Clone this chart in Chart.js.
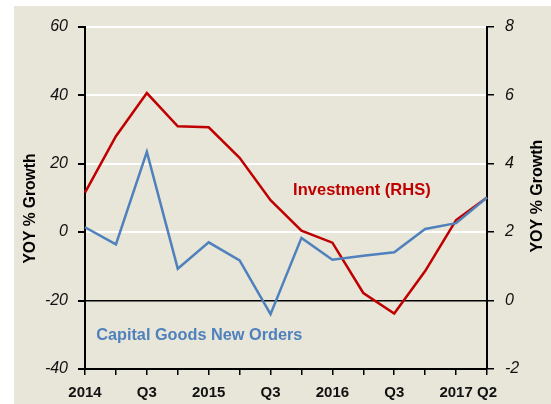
<!DOCTYPE html>
<html lang="en">
<head>
    <meta charset="UTF-8">
    <title>Capital Goods Orders vs Investment</title>
    <script src="https://cdn.jsdelivr.net/npm/chart.js"></script>
    <style>
        body {
            margin: 0;
            background-color: #ffffff;
            font-family: "Liberation Sans", Arial, sans-serif;
        }
        .chart-box {
            position: absolute;
            left: 14px;
            top: 6px;
            width: 537px;
            height: 398px;
            background-color: #e8e5d9;
        }
    </style>
</head>
<body>

<div class="chart-box">
    <canvas id="chart" width="537" height="398"></canvas>
</div>

<script>
    // quarterly, 2014 Q1 .. 2017 Q2
    const quarterLabels = ['2014', '', 'Q3', '', '2015', '', 'Q3', '', '2016', '', 'Q3', '', '2017', 'Q2'];
    // YOY % growth, left axis
    const capitalGoodsOrders = [1.4, -3.6, 23.4, -10.7, -3.0, -8.3, -24.0, -1.7, -8.1, -6.9, -5.9, 0.9, 2.6, 10.1];
    // YOY % growth, right axis
    const investment = [3.15, 4.8, 6.06, 5.09, 5.06, 4.17, 2.93, 2.04, 1.69, 0.22, -0.38, 0.86, 2.35, 3.01];

    const leftTicks = [-40, -20, 0, 20, 40, 60];
    const rightTicks = [-2, 0, 2, 4, 6, 8];

    const FONT = '"Liberation Sans", Arial, sans-serif';
    const RED = '#c00000';
    const BLUE = '#4f81bd';

    // axis titles and the two series labels
    const textPlugin = {
        id: 'textPlugin',
        afterDatasetsDraw(chart) {
            const ctx = chart.ctx;
            const x = chart.scales.x;
            const y = chart.scales.y;
            const y2 = chart.scales.y2;
            const area = chart.chartArea;
            ctx.save();
            ctx.textBaseline = 'middle';

            ctx.fillStyle = RED;
            ctx.font = 'bold 16.5px ' + FONT;
            ctx.textAlign = 'left';
            ctx.fillText('Investment (RHS)', x.getPixelForValue(6.73), y2.getPixelForValue(3.22));

            ctx.fillStyle = BLUE;
            ctx.font = 'bold 16.3px ' + FONT;
            ctx.fillText('Capital Goods New Orders', x.getPixelForValue(0.36), y.getPixelForValue(-30.1));

            ctx.fillStyle = '#000';
            ctx.textAlign = 'center';
            ctx.font = 'bold 15.6px ' + FONT;
            ctx.translate(17, area.top + 182);
            ctx.rotate(-Math.PI / 2);
            ctx.fillText('YOY % Growth', 0, 0);
            ctx.restore();

            ctx.save();
            ctx.fillStyle = '#000';
            ctx.textAlign = 'center';
            ctx.textBaseline = 'middle';
            ctx.font = 'bold 16px ' + FONT;
            ctx.translate(area.right + 50.5, area.top + 169.5);
            ctx.rotate(-Math.PI / 2);
            ctx.fillText('YOY % Growth', 0, 0);
            ctx.restore();
        }
    };

    new Chart(document.getElementById('chart').getContext('2d'), {
        type: 'line',
        data: {
            labels: quarterLabels,
            datasets: [
                {
                    label: 'Capital Goods New Orders',
                    data: capitalGoodsOrders,
                    yAxisID: 'y',
                    borderColor: BLUE,
                    borderWidth: 2.5,
                    pointRadius: 0,
                    tension: 0
                },
                {
                    label: 'Investment (RHS)',
                    data: investment,
                    yAxisID: 'y2',
                    borderColor: RED,
                    borderWidth: 2.5,
                    pointRadius: 0,
                    tension: 0
                }
            ]
        },
        options: {
            responsive: false,
            animation: false,
            layout: { padding: { top: 19, left: 0, right: 0, bottom: 0 } },
            plugins: {
                legend: { display: false },
                tooltip: { enabled: false }
            },
            scales: {
                x: {
                    offset: false,
                    grid: { drawOnChartArea: false, tickLength: 6, color: '#000', lineWidth: 1.5 },
                    border: { color: '#000', width: 2 },
                    ticks: {
                        autoSkip: false,
                        maxRotation: 0,
                        padding: 9,
                        color: '#111',
                        font: { family: FONT, size: 15, weight: 'bold' }
                    },
                    afterFit: s => { s.height = 35; }
                },
                y: {
                    position: 'left',
                    min: leftTicks[0],
                    max: leftTicks[leftTicks.length - 1],
                    afterBuildTicks: s => { s.ticks = leftTicks.map(v => ({ value: v })); },
                    grid: {
                        color: c => (c.tick && c.tick.value >= 0 ? '#ffffff' : 'rgba(0,0,0,0)'),
                        lineWidth: 2,
                        tickColor: '#000',
                        tickLength: 7
                    },
                    border: { color: '#000', width: 2 },
                    ticks: {
                        padding: 10,
                        color: '#111',
                        font: { family: FONT, size: 16, style: 'italic' }
                    },
                    afterFit: s => { s.width = 71; }
                },
                y2: {
                    position: 'right',
                    min: rightTicks[0],
                    max: rightTicks[rightTicks.length - 1],
                    afterBuildTicks: s => { s.ticks = rightTicks.map(v => ({ value: v })); },
                    grid: {
                        color: c => (c.tick && c.tick.value === 0 ? '#000' : 'rgba(0,0,0,0)'),
                        lineWidth: 1.5,
                        tickColor: '#000',
                        tickLength: 7
                    },
                    border: { color: '#000', width: 2 },
                    ticks: {
                        padding: 11,
                        color: '#111',
                        font: { family: FONT, size: 16, style: 'italic' }
                    },
                    afterFit: s => { s.width = 64; }
                }
            }
        },
        plugins: [textPlugin]
    });
</script>

</body>
</html>
